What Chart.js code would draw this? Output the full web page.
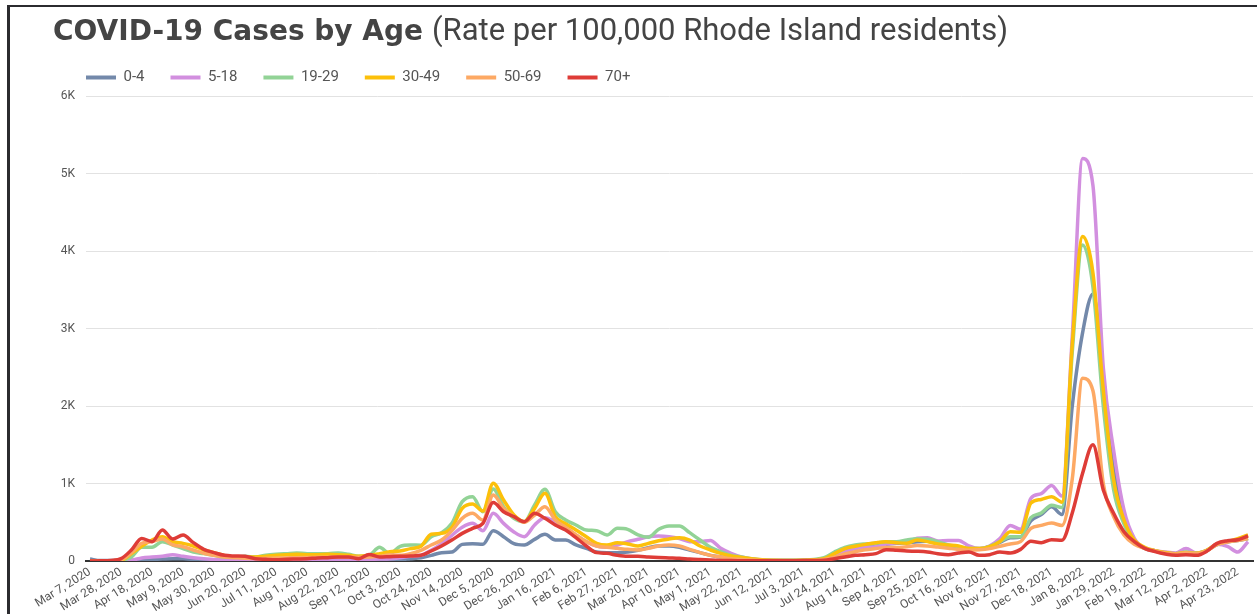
<!DOCTYPE html>
<html>
<head>
<meta charset="utf-8">
<script src="https://cdn.jsdelivr.net/npm/chart.js@4.4.1/dist/chart.umd.min.js"></script>
<style>
  html, body { margin: 0; padding: 0; background: #fff; width: 1257px; height: 614px; overflow: hidden; }
  #chart { position: absolute; left: 0; top: 0; }
  #bt { position: absolute; left: 7px; top: 5px; width: 1250px; height: 2px; background: #2b2b2f; }
  #bl { position: absolute; left: 7px; top: 5px; width: 3px; height: 609px; background: #2b2b2f; }
  #title { position: absolute; left: 53px; top: 10px; font-family: "DejaVu Sans", sans-serif; font-size: 28px; line-height: 40px; color: #444; white-space: nowrap; }
  #title b { font-family: "DejaVu Sans", sans-serif; font-weight: 700; font-size: 28px; }
  #title span { font-family: Roboto, sans-serif; font-weight: 400; font-size: 31px; }
</style>
</head>
<body>
<canvas id="chart" width="1257" height="614"></canvas>
<div id="bt"></div>
<div id="bl"></div>
<div id="title"><b>COVID-19 Cases by Age</b> <span>(Rate per 100,000 Rhode Island residents)</span></div>
<script>
const weekLabels = [
  "Mar 7, 2020","Mar 14, 2020","Mar 21, 2020","Mar 28, 2020","Apr 4, 2020","Apr 11, 2020","Apr 18, 2020","Apr 25, 2020",
  "May 2, 2020","May 9, 2020","May 16, 2020","May 23, 2020","May 30, 2020","Jun 6, 2020","Jun 13, 2020","Jun 20, 2020","Jun 27, 2020",
  "Jul 4, 2020","Jul 11, 2020","Jul 18, 2020","Jul 25, 2020","Aug 1, 2020","Aug 8, 2020","Aug 15, 2020","Aug 22, 2020","Aug 29, 2020",
  "Sep 5, 2020","Sep 12, 2020","Sep 19, 2020","Sep 26, 2020","Oct 3, 2020","Oct 10, 2020","Oct 17, 2020","Oct 24, 2020","Oct 31, 2020",
  "Nov 7, 2020","Nov 14, 2020","Nov 21, 2020","Nov 28, 2020","Dec 5, 2020","Dec 12, 2020","Dec 19, 2020","Dec 26, 2020",
  "Jan 2, 2021","Jan 9, 2021","Jan 16, 2021","Jan 23, 2021","Jan 30, 2021","Feb 6, 2021","Feb 13, 2021","Feb 20, 2021","Feb 27, 2021",
  "Mar 6, 2021","Mar 13, 2021","Mar 20, 2021","Mar 27, 2021","Apr 3, 2021","Apr 10, 2021","Apr 17, 2021","Apr 24, 2021",
  "May 1, 2021","May 8, 2021","May 15, 2021","May 22, 2021","May 29, 2021","Jun 5, 2021","Jun 12, 2021","Jun 19, 2021","Jun 26, 2021",
  "Jul 3, 2021","Jul 10, 2021","Jul 17, 2021","Jul 24, 2021","Jul 31, 2021","Aug 7, 2021","Aug 14, 2021","Aug 21, 2021","Aug 28, 2021",
  "Sep 4, 2021","Sep 11, 2021","Sep 18, 2021","Sep 25, 2021","Oct 2, 2021","Oct 9, 2021","Oct 16, 2021","Oct 23, 2021","Oct 30, 2021",
  "Nov 6, 2021","Nov 13, 2021","Nov 20, 2021","Nov 27, 2021","Dec 4, 2021","Dec 11, 2021","Dec 18, 2021","Dec 25, 2021",
  "Jan 1, 2022","Jan 8, 2022","Jan 15, 2022","Jan 22, 2022","Jan 29, 2022","Feb 5, 2022","Feb 12, 2022","Feb 19, 2022","Feb 26, 2022",
  "Mar 5, 2022","Mar 12, 2022","Mar 19, 2022","Mar 26, 2022","Apr 2, 2022","Apr 9, 2022","Apr 16, 2022","Apr 23, 2022","Apr 30, 2022"
];

const seriesNames = ["0-4", "5-18", "19-29", "30-49", "50-69", "70+"];

const age0to4 = [
  25, 5, 5, 8, 10, 15, 20, 25, 30, 28,
  22, 15, 12, 10, 8, 8, 8, 10, 12, 15,
  15, 15, 15, 12, 12, 10, 10, 12, 15, 15,
  17, 30, 43, 73, 108, 116, 215, 224, 215, 390,
  314, 224, 207, 280, 344, 271, 271, 207, 164, 116,
  108, 108, 116, 138, 172, 194, 194, 177, 142, 108,
  73, 52, 30, 15, 10, 8, 6, 6, 6, 8,
  10, 25, 80, 140, 180, 190, 205, 215, 230, 235,
  250, 255, 225, 200, 180, 160, 155, 185, 240, 300,
  310, 520, 600, 700, 600, 2000, 2950, 3450, 2380, 1180,
  570, 270, 165, 130, 100, 95, 110, 100, 135, 210,
  245, 265, 290
];
const age5to18 = [
  0, 0, 2, 5, 10, 40, 52, 60, 82, 60,
  43, 30, 20, 15, 12, 10, 10, 12, 15, 15,
  15, 15, 18, 18, 18, 15, 15, 20, 25, 30,
  43, 60, 73, 138, 224, 332, 435, 486, 392, 616,
  486, 375, 314, 465, 560, 508, 435, 336, 250, 194,
  177, 207, 250, 280, 314, 323, 314, 290, 250, 250,
  265, 164, 99, 52, 25, 12, 8, 6, 6, 8,
  10, 30, 73, 116, 160, 177, 185, 220, 237, 250,
  293, 301, 258, 266, 266, 194, 160, 194, 290, 460,
  409, 810, 870, 975, 840, 2900, 5200, 4850, 2500, 1430,
  660, 293, 165, 134, 115, 103, 160, 103, 135, 215,
  190, 116, 250
];
const age19to29 = [
  0, 0, 3, 10, 52, 177, 177, 250, 207, 160,
  116, 95, 73, 52, 52, 60, 52, 73, 86, 95,
  103, 95, 95, 95, 103, 86, 60, 73, 177, 95,
  190, 207, 205, 314, 366, 487, 766, 831, 637, 930,
  702, 551, 508, 724, 926, 637, 530, 465, 400, 392,
  336, 422, 409, 336, 306, 409, 452, 452, 366, 271,
  177, 120, 73, 52, 30, 15, 10, 10, 10, 12,
  20, 43, 116, 177, 207, 220, 228, 250, 250, 271,
  288, 280, 250, 207, 185, 160, 160, 190, 250, 314,
  314, 560, 620, 720, 690, 2700, 4080, 3540, 2000, 920,
  480, 245, 164, 134, 100, 95, 115, 100, 138, 215,
  250, 270, 290
];
const age30to49 = [
  0, 0, 3, 10, 95, 190, 271, 314, 250, 228,
  194, 142, 108, 73, 52, 52, 52, 60, 73, 82,
  86, 82, 82, 86, 82, 73, 60, 73, 95, 120,
  130, 160, 190, 345, 357, 435, 680, 736, 646, 1004,
  788, 594, 508, 680, 874, 573, 482, 400, 314, 228,
  207, 237, 220, 194, 228, 262, 284, 301, 271, 194,
  142, 99, 65, 47, 30, 15, 10, 8, 8, 10,
  15, 30, 95, 160, 190, 215, 237, 250, 237, 228,
  271, 250, 220, 207, 194, 160, 160, 185, 250, 379,
  370, 750, 795, 830, 760, 2800, 4190, 3720, 2210, 1050,
  530, 271, 177, 134, 110, 95, 110, 100, 138, 220,
  250, 290, 336
];
const age50to69 = [
  0, 0, 3, 15, 108, 228, 250, 284, 207, 185,
  142, 99, 73, 52, 43, 35, 32, 35, 38, 40,
  42, 45, 48, 50, 52, 50, 48, 52, 60, 80,
  73, 95, 138, 207, 271, 392, 551, 616, 530, 853,
  680, 573, 500, 594, 702, 530, 435, 336, 250, 194,
  177, 164, 151, 142, 164, 194, 207, 194, 151, 108,
  73, 52, 30, 20, 12, 8, 6, 5, 5, 6,
  8, 20, 50, 90, 120, 145, 160, 175, 175, 185,
  200, 195, 180, 165, 150, 140, 145, 160, 190, 220,
  250, 420, 460, 490, 460, 1060, 2360, 2200, 1000, 573,
  336, 215, 164, 130, 100, 90, 105, 95, 130, 210,
  245, 265, 290
];
const age70plus = [
  0, 2, 8, 30, 142, 292, 250, 400, 284, 336,
  237, 151, 108, 73, 65, 60, 30, 22, 17, 22,
  26, 30, 39, 43, 52, 52, 30, 85, 52, 56,
  60, 65, 73, 129, 194, 271, 357, 422, 486, 754,
  637, 573, 508, 616, 551, 465, 400, 301, 194, 108,
  99, 73, 60, 60, 52, 45, 40, 35, 25, 18,
  12, 8, 5, 4, 3, 3, 3, 3, 4, 5,
  5, 9, 30, 52, 73, 82, 95, 146, 138, 129,
  125, 116, 95, 82, 103, 116, 73, 82, 116, 103,
  150, 254, 237, 275, 267, 620, 1133, 1500, 917, 616,
  379, 250, 164, 121, 90, 73, 82, 73, 125, 228,
  262, 275, 323
];

const yTickValues = [0, 1000, 2000, 3000, 4000, 5000, 6000];
const yTickLabels = ["0", "1K", "2K", "3K", "4K", "5K", "6K"];

const seriesValues = [age0to4, age5to18, age19to29, age30to49, age50to69, age70plus];
const seriesColors = ["#7389aa", "#d28fdf", "#92d396", "#fcc00a", "#fda964", "#de3c37"];

const xIndex = weekLabels.map((_, i) => i);
const labelEvery = 3;

const datasets = seriesNames.map((name, k) => ({
  label: name,
  data: seriesValues[k],
  borderColor: seriesColors[k],
  backgroundColor: seriesColors[k],
  borderWidth: 3.5,
  pointRadius: 0,
  pointHoverRadius: 0,
  cubicInterpolationMode: 'monotone',
  fill: false,
  order: seriesNames.length - k
}));

new Chart(document.getElementById('chart').getContext('2d'), {
  type: 'line',
  data: { labels: xIndex, datasets },
  options: {
    responsive: false,
    animation: false,
    devicePixelRatio: 1,
    layout: { padding: { left: 60, top: 44, right: 4, bottom: 0 } },
    plugins: {
      title: { display: false },
      tooltip: { enabled: false },
      legend: {
        position: 'top',
        align: 'start',
        labels: {
          boxWidth: 30,
          boxHeight: 4,
          padding: 26,
          color: '#555',
          font: { family: 'Roboto', size: 15 },
          sort: (a, b) => a.datasetIndex - b.datasetIndex,
          generateLabels: (chart) => Chart.defaults.plugins.legend.labels.generateLabels(chart)
            .map(l => Object.assign({}, l, { lineWidth: 0, fillStyle: seriesColors[l.datasetIndex] }))
        }
      }
    },
    scales: {
      x: {
        type: 'linear',
        min: -0.387,
        max: 112.48,
        grid: { display: false, drawTicks: false },
        border: { display: true, color: '#333', width: 2 },
        afterBuildTicks: (scale) => {
          scale.ticks = xIndex.filter(i => i % labelEvery === 0).map(v => ({ value: v }));
        },
        afterFit: (scale) => { scale.height = 53; },
        ticks: {
          autoSkip: false,
          minRotation: 32,
          maxRotation: 32,
          padding: 4,
          color: '#555',
          font: { family: 'Roboto', size: 12 },
          callback: (v) => weekLabels[v]
        }
      },
      y: {
        min: 0,
        max: 6019,
        afterBuildTicks: (scale) => {
          scale.ticks = yTickValues.map(v => ({ value: v }));
        },
        afterFit: (scale) => { scale.width = 26; },
        grid: { color: '#e2e2e2', drawTicks: false, lineWidth: 1 },
        border: { display: false },
        ticks: {
          padding: 11,
          color: '#555',
          font: { family: 'Roboto', size: 12 },
          callback: (v) => yTickLabels[yTickValues.indexOf(v)]
        }
      }
    }
  }
});
</script>
</body>
</html>
